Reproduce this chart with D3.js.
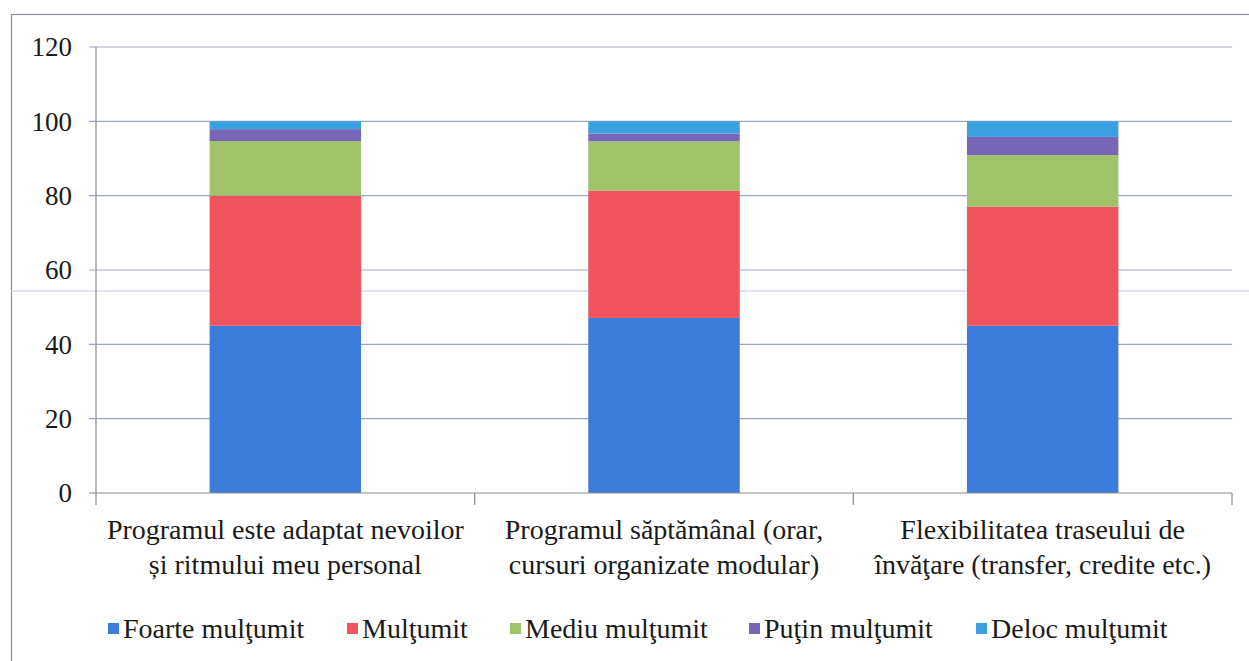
<!DOCTYPE html>
<html><head><meta charset="utf-8">
<script src="https://cdn.jsdelivr.net/npm/d3@7"></script>
<style>body{margin:0;background:#fff}svg{display:block}</style>
</head><body>
<svg id="c" width="1249" height="661"></svg>
<script>
const categories = [
  ["Programul este adaptat nevoilor", "și ritmului meu personal"],
  ["Programul săptămânal (orar,", "cursuri organizate modular)"],
  ["Flexibilitatea traseului de", "învăţare (transfer, credite etc.)"]
];
const seriesNames = ["Foarte mulţumit", "Mulţumit", "Mediu mulţumit", "Puţin mulţumit", "Deloc mulţumit"];
const foarte = [45.0, 47.1, 45.0];
const multumit = [35.0, 34.2, 32.0];
const mediu = [14.7, 13.3, 13.9];
const putin = [3.2, 2.1, 4.9];
const deloc = [2.1, 3.3, 4.2];
const yTicks = [0, 20, 40, 60, 80, 100, 120];
const colors = ["#3c7ddc", "#f0545c", "#a0c268", "#7866b6", "#3aa0e0"];

const values = [foarte, multumit, mediu, putin, deloc];
const rows = categories.map((c, i) => {
  const r = {cat: i};
  seriesNames.forEach((s, k) => r[s] = values[k][i]);
  return r;
});
const stack = d3.stack().keys(seriesNames)(rows);

const svg = d3.select("#c");
const setFont = (sel, size) => sel.style("font-family", `"Liberation Serif", monospace`).style("font-size", size + "px");

// outer border
svg.append("rect").attr("x", 11.5).attr("y", 14.5).attr("width", 1260).attr("height", 700)
  .attr("fill", "none").attr("stroke", "#8a8f9c").attr("stroke-width", 1.2);

const x = d3.scaleBand().domain(d3.range(categories.length)).range([96, 1232]).paddingInner(0.6).paddingOuter(0.3);
const xb = d3.scaleBand().domain(d3.range(categories.length)).range([96, 1232]);
const y = d3.scaleLinear().domain([0, 120]).range([493, 47]);

// gridlines
svg.append("g").selectAll("line").data(yTicks.filter(t => t > 0)).join("line")
  .attr("x1", 89).attr("x2", 1232).attr("y1", d => y(d)).attr("y2", d => y(d))
  .attr("stroke", "#9ea6c6").attr("stroke-width", 1.2);

// scan artifact line
svg.append("line").attr("x1", 11).attr("x2", 1249).attr("y1", 291).attr("y2", 291)
  .attr("stroke", "#c9c4ee").attr("stroke-width", 1);

// y labels
svg.append("g").selectAll("text").data(yTicks).join("text")
  .attr("x", 72).attr("y", d => y(d)).attr("dy", "0.35em").attr("text-anchor", "end")
  .attr("fill", "#1a1a1a").text(d => d).call(setFont, 27);

// bars
svg.append("g").selectAll("g").data(stack).join("g")
  .attr("fill", (d, i) => colors[i])
  .selectAll("rect").data(d => d).join("rect")
  .attr("x", (d, i) => x(i)).attr("width", x.bandwidth())
  .attr("y", d => y(d[1])).attr("height", d => y(d[0]) - y(d[1]));

// axes
svg.append("line").attr("x1", 96).attr("x2", 96).attr("y1", 47).attr("y2", 505)
  .attr("stroke", "#8c8c8c").attr("stroke-width", 1.2);
svg.append("line").attr("x1", 89).attr("x2", 1232).attr("y1", y(0)).attr("y2", y(0))
  .attr("stroke", "#8c8c8c").attr("stroke-width", 1.2);
svg.append("g").selectAll("line").data(d3.range(categories.length)).join("line")
  .attr("x1", d => xb(d) + xb.bandwidth()).attr("x2", d => xb(d) + xb.bandwidth())
  .attr("y1", y(0)).attr("y2", 505).attr("stroke", "#8c8c8c").attr("stroke-width", 1.2);

// category labels
const cl = svg.append("g").selectAll("text").data(categories).join("text")
  .attr("text-anchor", "middle").attr("fill", "#1a1a1a").call(setFont, 28);
cl.each(function(d, i) {
  const t = d3.select(this);
  d.forEach((line, j) => t.append("tspan").attr("x", xb(i) + xb.bandwidth() / 2).attr("y", 539 + j * 35).text(line));
});

// legend
const legX = [108, 347, 510, 749, 976];
const lg = svg.append("g").selectAll("g").data(seriesNames).join("g")
  .attr("transform", (d, i) => `translate(${legX[i]},628)`);
lg.append("rect").attr("x", 0).attr("y", -5).attr("width", 11).attr("height", 11).attr("fill", (d, i) => colors[i]);
lg.append("text").attr("x", 15).attr("y", 0).attr("dy", "0.35em")
  .attr("fill", "#1a1a1a").text(d => d).call(setFont, 28);
</script>
</body></html>
